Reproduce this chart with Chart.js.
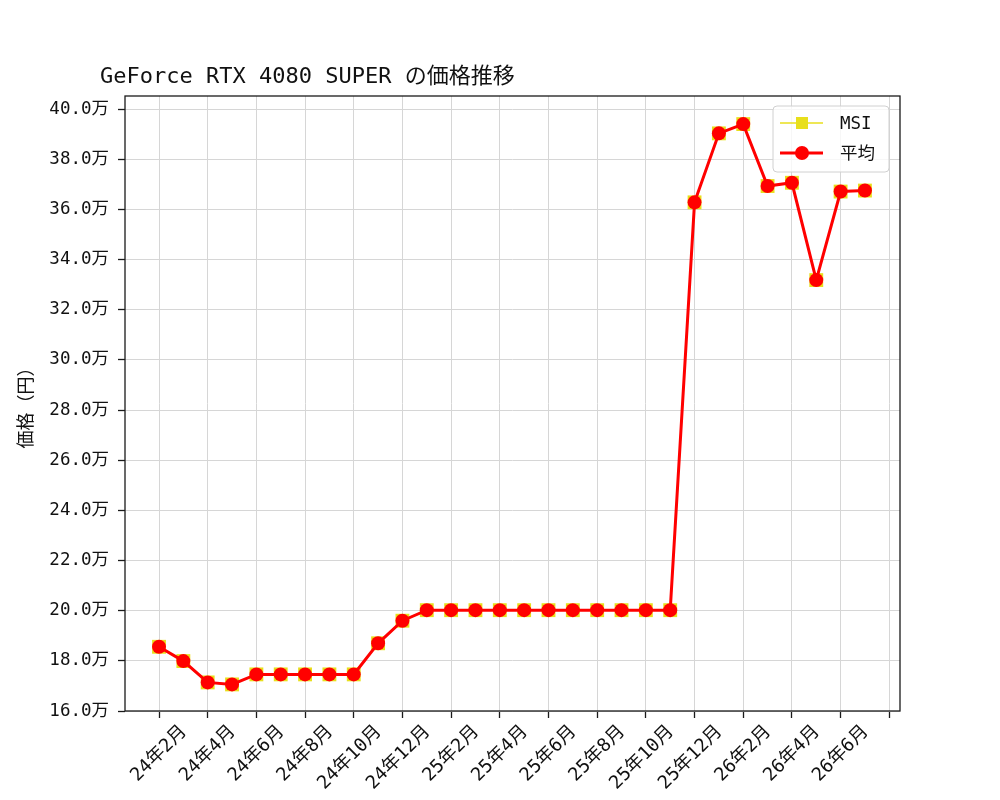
<!DOCTYPE html>
<html><head><meta charset="utf-8">
<script src="https://cdn.jsdelivr.net/npm/chart.js@4/dist/chart.umd.min.js"></script>
<style>html,body{margin:0;padding:0;background:#fff}#wrap{width:1000px;height:800px}</style>
</head><body><div id="wrap"><canvas id="c" width="1000" height="800"></canvas></div>
<script>
const chartTitle = 'GeForce RTX 4080 SUPER の価格推移';
const yAxisTitle = '価格（円）';
const months = ['24年2月','24年3月','24年4月','24年5月','24年6月','24年7月','24年8月','24年9月','24年10月','24年11月','24年12月',
  '25年1月','25年2月','25年3月','25年4月','25年5月','25年6月','25年7月','25年8月','25年9月','25年10月','25年11月','25年12月',
  '26年1月','26年2月','26年3月','26年4月','26年5月','26年6月','26年7月'];
const xTickLabels = ['24年2月','24年4月','24年6月','24年8月','24年10月','24年12月','25年2月','25年4月','25年6月','25年8月','25年10月','25年12月','26年2月','26年4月','26年6月',''];
const yTickValues = [160000,180000,200000,220000,240000,260000,280000,300000,320000,340000,360000,380000,400000];
const msiPrices = [185600,179900,171400,170600,174600,174600,174600,174600,174600,187000,196000,
  200200,200200,200200,200200,200200,200200,200200,200200,200200,200200,200200,
  362800,390300,394000,369300,370600,331800,367100,367500];
const avgPrices = [185600,179900,171400,170600,174600,174600,174600,174600,174600,187000,196000,
  200200,200200,200200,200200,200200,200200,200200,200200,200200,200200,200200,
  362800,390300,394000,369300,370600,331800,367100,367500];
const seriesNames = ['MSI','平均'];
const seriesColors = ['#e8df1c','#ff0000'];

const FONT = '"DejaVu Sans Mono", "Noto Sans CJK JP", monospace';
const TXT = '#111111';

function toPoints(arr){ return arr.map((v,i)=>({x:i, y:v})); }

const framePlugin = {
  id:'frame',
  afterDraw(chart){
    const {ctx, chartArea:a} = chart;
    ctx.save();
    ctx.font = '22px ' + FONT;
    ctx.fillStyle = TXT;
    ctx.textAlign = 'left';
    ctx.textBaseline = 'alphabetic';
    ctx.fillText(chartTitle, a.left - 25, a.top - 13);
    ctx.strokeStyle = '#1a1a1a';
    ctx.lineWidth = 1.3;
    ctx.strokeRect(a.left, a.top, a.right - a.left, a.bottom - a.top);
    const bw = 116, bh = 66;
    const bx = a.right - 11 - bw, by = a.top + 10;
    const r = 4;
    ctx.beginPath();
    ctx.moveTo(bx + r, by);
    ctx.arcTo(bx + bw, by, bx + bw, by + bh, r);
    ctx.arcTo(bx + bw, by + bh, bx, by + bh, r);
    ctx.arcTo(bx, by + bh, bx, by, r);
    ctx.arcTo(bx, by, bx + bw, by, r);
    ctx.closePath();
    ctx.fillStyle = 'rgba(255,255,255,0.8)';
    ctx.fill();
    ctx.strokeStyle = '#d0d0d0';
    ctx.lineWidth = 1;
    ctx.stroke();
    const ds = chart.data.datasets;
    ds.forEach((d, i) => {
      const cy = by + 17 + i * 30;
      const lx0 = bx + 7, lx1 = bx + 50, mx = bx + 29;
      ctx.strokeStyle = d.borderColor;
      ctx.lineWidth = d.borderWidth;
      ctx.beginPath(); ctx.moveTo(lx0, cy); ctx.lineTo(lx1, cy); ctx.stroke();
      ctx.fillStyle = d.pointBackgroundColor;
      if (d.pointStyle === 'rect') {
        const s = 6;
        ctx.fillRect(mx - s, cy - s, 2 * s, 2 * s);
      } else {
        ctx.beginPath(); ctx.arc(mx, cy, d.pointRadius, 0, Math.PI * 2); ctx.fill();
      }
      ctx.fillStyle = TXT;
      ctx.font = '17.5px ' + FONT;
      ctx.textAlign = 'left';
      ctx.textBaseline = 'middle';
      ctx.fillText(d.label, bx + 67, cy + 1);
    });
    ctx.restore();
  }
};

new Chart(document.getElementById('c'), {
  type: 'line',
  data: {
    datasets: [
      { label: seriesNames[0], data: toPoints(msiPrices), borderColor: seriesColors[0], backgroundColor: seriesColors[0],
        borderWidth: 1.5, pointStyle: 'rect', pointRadius: 9.8, pointHoverRadius: 9.8,
        pointBackgroundColor: seriesColors[0], pointBorderWidth: 0, order: 2 },
      { label: seriesNames[1], data: toPoints(avgPrices), borderColor: seriesColors[1], backgroundColor: seriesColors[1],
        borderWidth: 3, pointStyle: 'circle', pointRadius: 7, pointHoverRadius: 7,
        pointBackgroundColor: seriesColors[1], pointBorderWidth: 0, order: 1 }
    ]
  },
  options: {
    responsive: false,
    animation: false,
    events: [],
    layout: { padding: { top: 96, right: 100, left: 0, bottom: 0 } },
    plugins: { legend: { display: false }, title: { display: false }, tooltip: { enabled: false } },
    scales: {
      x: {
        type: 'linear',
        min: -1.397, max: 30.44,
        border: { display: false },
        grid: { color: '#d6d6d6', lineWidth: 1, drawTicks: true, tickLength: 7, tickColor: '#1a1a1a', tickWidth: 1.3 },
        afterBuildTicks(scale) { scale.ticks = xTickLabels.map((_, i) => ({ value: i * 2 })); },
        afterFit(scale) { scale.height = 89; },
        ticks: {
          autoSkip: false, minRotation: 45, maxRotation: 45, padding: 3, labelOffset: 25,
          color: TXT, font: { family: FONT, size: 18.5 },
          callback: (v) => xTickLabels[Math.round(v / 2)] ?? ''
        }
      },
      y: {
        type: 'linear',
        min: 160000, max: 405200,
        border: { display: false },
        grid: { color: '#d6d6d6', lineWidth: 1, drawTicks: true, tickLength: 7, tickColor: '#1a1a1a', tickWidth: 1.3 },
        afterBuildTicks(scale) { scale.ticks = yTickValues.map(v => ({ value: v })); },
        afterFit(scale) { scale.width = 125; },
        title: { display: true, text: yAxisTitle, color: TXT, font: { family: FONT, size: 18 }, padding: { top: 17, bottom: 0 } },
        ticks: {
          padding: 9, color: TXT, font: { family: FONT, size: 17.5 },
          callback: (v) => (v / 10000).toFixed(1) + '万'
        }
      }
    }
  },
  plugins: [framePlugin]
});
</script>
</body></html>
